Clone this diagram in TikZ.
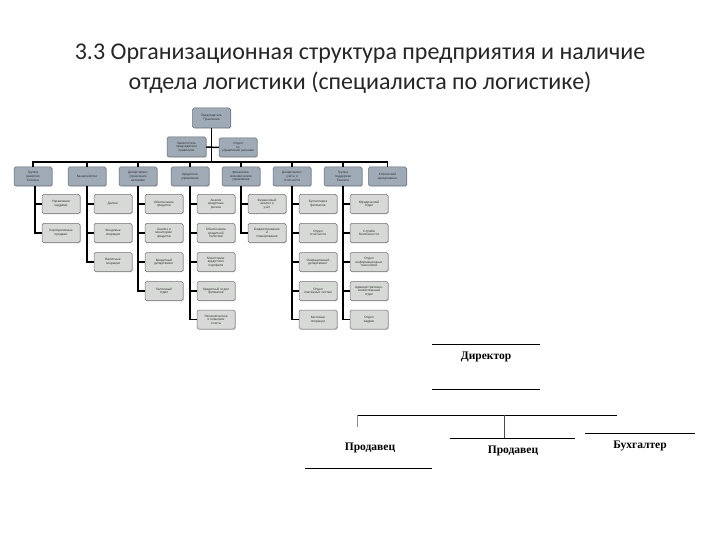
\documentclass[tikz,border=0pt]{standalone}
\usepackage{fontspec}
\setmainfont{Carlito}
\newfontfamily\boxfont{Liberation Sans}
\newfontfamily\serifbold{Liberation Serif}
\usepackage{xcolor}
\usetikzlibrary{calc, shadows}

\definecolor{deptfill}{RGB}{158,170,181}
\definecolor{deptline}{RGB}{96,106,116}
\definecolor{unitfill}{RGB}{214,217,214}
\definecolor{unitline}{RGB}{112,112,112}
\definecolor{titlegray}{RGB}{38,38,38}

\begin{document}
\begin{tikzpicture}[
  x=1pt, y=-1pt,
  link/.style={draw=black, line width=1.5pt},
  thinline/.style={draw=black, line width=0.8pt},
  headbox/.style={draw=deptline, fill=deptfill, rounded corners=1.5pt, line width=0.5pt,
    minimum width=38pt, minimum height=19pt, inner sep=0.3pt, align=center, text width=37pt,
    text=black!80, font=\boxfont\fontsize{3.2}{3.6}\selectfont,
    drop shadow={shadow xshift=0.8pt, shadow yshift=-0.8pt, opacity=0.35}},
  unitbox/.style={headbox, draw=unitline, fill=unitfill},
  posttext/.style={font=\serifbold\bfseries\fontsize{11.5}{13}\selectfont}
]
  \useasboundingbox (0,0) rectangle (720,540);

  % Title
  \node (title) [align=center, text=titlegray, font=\fontsize{24}{30}\selectfont] at (360,69)
    {3.3 Организационная структура предприятия и наличие\\отдела логистики (специалиста по логистике)};

  % Top of the chart
  \coordinate (busL) at (35,162);
  \node (top) [headbox, minimum height=20pt] at (211.5,118) {Председатель\\Правления};
  \node (dep1) [headbox, minimum width=39pt, minimum height=20pt] at (186.5,147) {Заместитель\\председателя\\правления};
  \node (dep2) [headbox] at (238,147.5) {Отдел\\по\\управлению рисками};

  % Departments
  \node (d1) [headbox] at (33,176.5) {Группа\\развития\\бизнеса};
  \node (d2) [headbox] at (87,176.5) {Казначейство};
  \node (d3) [headbox] at (138,176.5) {Департамент\\управления\\активами};
  \node (d4) [headbox] at (190,176.5) {Кредитное\\управление};
  \node (d5) [headbox] at (241,176.5) {Финансово-\\экономическое\\управление};
  \node (d6) [headbox] at (292,176.5) {Департамент\\учёта и\\отчётности};
  \node (d7) [headbox] at (343,176.5) {Группа\\поддержки\\бизнеса};
  \node (d8) [headbox] at (387.5,176.5) {Клиентский\\департамент};

  % Units
  \node (u11) [unitbox] at (61,204) {Управление\\кадрами};
  \node (u12) [unitbox] at (61,233) {Корпоративные\\продажи};

  \node (u21) [unitbox] at (113,204) {Дилинг};
  \node (u22) [unitbox] at (113,233) {Фондовые\\операции};
  \node (u23) [unitbox] at (113,262) {Валютные\\операции};

  \node (u31) [unitbox] at (164,204) {Обеспечение\\кредитов};
  \node (u32) [unitbox] at (164,233) {Анализ и\\мониторинг\\кредитов};
  \node (u33) [unitbox] at (164,262) {Кредитный\\департамент};
  \node (u34) [unitbox] at (164,291) {Залоговый\\отдел};

  \node (u41) [unitbox] at (216,204) {Анализ\\кредитных\\рисков};
  \node (u42) [unitbox] at (216,233) {Обеспечение\\кредитной\\политики};
  \node (u43) [unitbox] at (216,262) {Мониторинг\\кредитного\\портфеля};
  \node (u44) [unitbox] at (216,291) {Кредитный отдел\\филиалов};
  \node (u45) [unitbox] at (216,319.5) {Экономическое\\и плановое\\отчеты};

  \node (u51) [unitbox] at (267,204) {Финансовый\\анализ и\\учёт};
  \node (u52) [unitbox] at (267,233) {Бюджетирование\\и\\планирование};

  \node (u61) [unitbox] at (318,204) {Бухгалтерия\\филиалов};
  \node (u62) [unitbox] at (318,233) {Отдел\\отчётности};
  \node (u63) [unitbox] at (318,262) {Операционный\\департамент};
  \node (u64) [unitbox] at (318,291) {Отдел\\платёжных систем};
  \node (u65) [unitbox] at (318,319.5) {Кассовые\\операции};

  \node (u71) [unitbox] at (369,204) {Юридический\\отдел};
  \node (u72) [unitbox] at (369,233) {Служба\\безопасности};
  \node (u73) [unitbox] at (369,262) {Отдел\\информационных\\технологий};
  \node (u74) [unitbox] at (369,291) {Административно-\\хозяйственный\\отдел};
  \node (u75) [unitbox] at (369,319.5) {Отдел\\кадров};

  % Connections of the chart
  \draw[link] (top.south) -- (top.south |- busL);
  \draw[link] (dep1.east) -- (dep2.west);
  \draw[link] (d1.north) -- (d1.north |- busL) -| (d8.north);
  \draw[link] (d2.north) -- (d2.north |- busL);
  \draw[link] (d3.north) -- (d3.north |- busL);
  \draw[link] (d4.north) -- (d4.north |- busL);
  \draw[link] (d5.north) -- (d5.north |- busL);
  \draw[link] (d6.north) -- (d6.north |- busL);
  \draw[link] (d7.north) -- (d7.north |- busL);

  \draw[link] ($(d1.south)+(2,0)$) |- (u11.west);
  \draw[link] ($(d1.south)+(2,0)$) |- (u12.west);
  \draw[link] (d2.south) |- (u21.west);
  \draw[link] (d2.south) |- (u22.west);
  \draw[link] (d2.south) |- (u23.west);
  \draw[link] (d3.south) |- (u31.west);
  \draw[link] (d3.south) |- (u32.west);
  \draw[link] (d3.south) |- (u33.west);
  \draw[link] (d3.south) |- (u34.west);
  \draw[link] (d4.south) |- (u41.west);
  \draw[link] (d4.south) |- (u42.west);
  \draw[link] (d4.south) |- (u43.west);
  \draw[link] (d4.south) |- (u44.west);
  \draw[link] (d4.south) |- (u45.west);
  \draw[link] (d5.south) |- (u51.west);
  \draw[link] (d5.south) |- (u52.west);
  \draw[link] (d6.south) |- (u61.west);
  \draw[link] (d6.south) |- (u62.west);
  \draw[link] (d6.south) |- (u63.west);
  \draw[link] (d6.south) |- (u64.west);
  \draw[link] (d6.south) |- (u65.west);
  \draw[link] (d7.south) |- (u71.west);
  \draw[link] (d7.south) |- (u72.west);
  \draw[link] (d7.south) |- (u73.west);
  \draw[link] (d7.south) |- (u74.west);
  \draw[link] (d7.south) |- (u75.west);

  % Small shop: director and staff
  \node (boss) [posttext] at (486,357) {Директор};
  \node (seller1) [posttext] at (370,448) {Продавец};
  \node (seller2) [posttext] at (513,451) {Продавец};
  \node (account) [posttext] at (640,446) {Бухгалтер};

  \draw[thinline] (432,344) -- (540,344);
  \draw[thinline] (432,389) -- (540,389);
  \coordinate (staffL) at (357,415);
  \coordinate (staffR) at (617,415);
  \coordinate (staffM) at (504,415);
  \draw[thinline] (staffL) -- (staffR);
  \draw[draw=black!45, line width=0.5pt] (staffL) -- ++(0,12);
  \draw[draw=black!70, line width=0.6pt] (staffM) -- ++(0,23);
  \draw[thinline] (450,438) -- (575,438);
  \draw[thinline] (585,433) -- (695,433);
  \draw[thinline] (305,468) -- (432,468);
\end{tikzpicture}
\end{document}
